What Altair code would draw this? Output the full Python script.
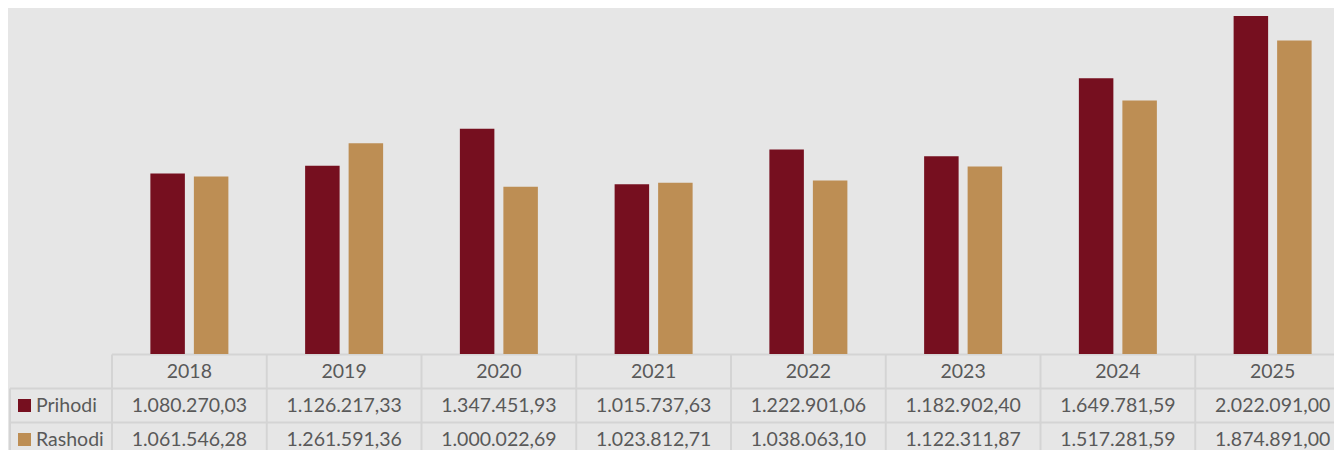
import altair as alt
import pandas as pd

# ---- data ----
years = ["2018", "2019", "2020", "2021", "2022", "2023", "2024", "2025"]
prihodi = [1080270.03, 1126217.33, 1347451.93, 1015737.63, 1222901.06, 1182902.40, 1649781.59, 2022091.00]
rashodi = [1061546.28, 1261591.36, 1000022.69, 1023812.71, 1038063.10, 1122311.87, 1517281.59, 1874891.00]
series = ["Prihodi", "Rashodi"]
colors = ["#760f1f", "#bd8e54"]
rows = ["Godina", "Prihodi", "Rashodi"]


def fmt(v):
    s = f"{v:,.2f}"
    return s.replace(",", "#").replace(".", ",").replace("#", ".")


bars_df = pd.DataFrame(
    [{"year": y, "series": s, "value": v}
     for s, vals in zip(series, [prihodi, rashodi])
     for y, v in zip(years, vals)]
)
cells = [{"year": y, "row": "Godina", "text": y} for y in years]
for s, vals in zip(series, [prihodi, rashodi]):
    cells += [{"year": y, "row": s, "text": fmt(v)} for y, v in zip(years, vals)]
cells_df = pd.DataFrame(cells)
years_df = pd.DataFrame({"year": years})
labels_df = pd.DataFrame({"row": series})

TXT = "#595959"
GRID = "#d4d4d4"
FONT = "Lato"
FS = 19.5

xscale = alt.Scale(domain=years, range=[0, 1238], paddingInner=0, paddingOuter=0)
rowscale = alt.Scale(domain=rows, range=[346.5, 448.5], paddingInner=0, paddingOuter=0)
colscale = alt.Scale(domain=series, range=colors)
X = alt.X("year:N", scale=xscale, axis=None)

bars = alt.Chart(bars_df).mark_bar().encode(
    x=X,
    xOffset=alt.XOffset("series:N", scale=alt.Scale(domain=series, paddingInner=0.207, paddingOuter=0.882)),
    y=alt.Y("value:Q", scale=alt.Scale(domain=[0, 2070000], range=[346, 0], nice=False), axis=None),
    color=alt.Color("series:N", scale=colscale, legend=None),
)

vlines = alt.Chart(years_df).mark_rule(color=GRID, strokeWidth=2).encode(
    x=alt.X("year:N", scale=xscale, axis=None, bandPosition=0),
    y=alt.value(346.5),
    y2=alt.value(442),
)

hline_head = alt.Chart(pd.DataFrame({"row": ["Godina"]})).mark_rule(color=GRID, strokeWidth=2).encode(
    y=alt.Y("row:N", scale=rowscale, axis=None, bandPosition=0),
    x=alt.value(0),
    x2=alt.value(1238),
)

hline_rows = alt.Chart(labels_df).mark_rule(color=GRID, strokeWidth=2).encode(
    y=alt.Y("row:N", scale=rowscale, axis=None, bandPosition=0),
    x=alt.value(-102),
    x2=alt.value(1238),
)

left_border = alt.Chart(pd.DataFrame({"row": ["Prihodi"]})).mark_rule(color=GRID, strokeWidth=2).encode(
    y=alt.Y("row:N", scale=rowscale, axis=None, bandPosition=0),
    y2=alt.value(442),
    x=alt.value(-102),
)

cell_text = alt.Chart(cells_df).mark_text(font=FONT, fontSize=FS, color=TXT, baseline="middle").encode(
    x=X,
    y=alt.Y("row:N", scale=rowscale, axis=None),
    text="text:N",
)

squares = alt.Chart(labels_df).mark_square(size=169, opacity=1).encode(
    x=alt.value(-87.5),
    y=alt.Y("row:N", scale=rowscale, axis=None),
    color=alt.Color("row:N", scale=colscale, legend=None),
)

row_labels = alt.Chart(labels_df).mark_text(font=FONT, fontSize=FS, color=TXT, align="left", baseline="middle").encode(
    x=alt.value(-76),
    y=alt.Y("row:N", scale=rowscale, axis=None),
    text="row:N",
)

chart = alt.layer(
    vlines, hline_head, hline_rows, left_border, bars, cell_text, squares, row_labels
).resolve_scale(
    y="independent"
).properties(
    width=1222,
    height=442,
    autosize=alt.AutoSizeParams(type="none"),
    padding={"left": 104, "top": 0, "right": 0, "bottom": 0},
    background="#e6e6e6",
).configure_view(stroke=None)

chart.save("out.html", embed_options={"renderer": "svg", "actions": False})
